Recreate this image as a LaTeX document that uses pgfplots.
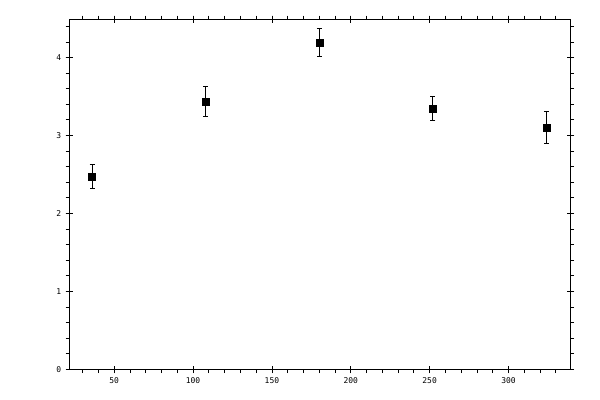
\documentclass[border=0pt]{standalone}
\usepackage{pgfplots}
\pgfplotsset{compat=1.18}
\usepackage{fontspec}
\setmainfont{DejaVu Sans Mono}
\begin{document}
\begin{tikzpicture}
\path[use as bounding box] (-69.3bp,-30.7bp) rectangle (530.7bp,369.3bp);
\pgfplotsset{
  myframe/.style={
    width=501bp, height=350bp, scale only axis,
    xmin=21.5, xmax=339.2, ymin=0, ymax=4.49,
    xtick={50,100,...,300}, ytick={0,1,...,4},
    axis line style={line width=0.8bp},
    every tick/.style={black, line width=0.8bp},
    /pgf/number format/assume math mode=true,
    tick label style={font=\fontsize{8}{8}\selectfont},
  }
}
\begin{axis}[myframe,
  tick align=outside,
  major tick length=3.7bp,
  minor tick length=3.7bp,
  minor xtick={30,40,...,330},
  minor ytick={0.2,0.4,...,4.41},
  xticklabel style={yshift=-1bp},
  yticklabel style={xshift=-1bp},
  ]
\addplot[black, only marks, mark=square*, mark size=3.5bp,
  error bars/.cd, y dir=both, y explicit,
  error bar style={line width=0.8bp},
  error mark options={rotate=90, mark size=2.5bp, line width=0.8bp}]
  coordinates {
  (36,2.474) +- (0,0.154)
  (108,3.436) +- (0,0.196)
  (180,4.192) +- (0,0.180)
  (252,3.346) +- (0,0.154)
  (324,3.103) +- (0,0.210)
  };
\end{axis}
\begin{axis}[myframe,
  tick align=inside,
  major tick length=3.7bp,
  xticklabels={}, yticklabels={},
  ]
\end{axis}
\end{tikzpicture}
\end{document}
